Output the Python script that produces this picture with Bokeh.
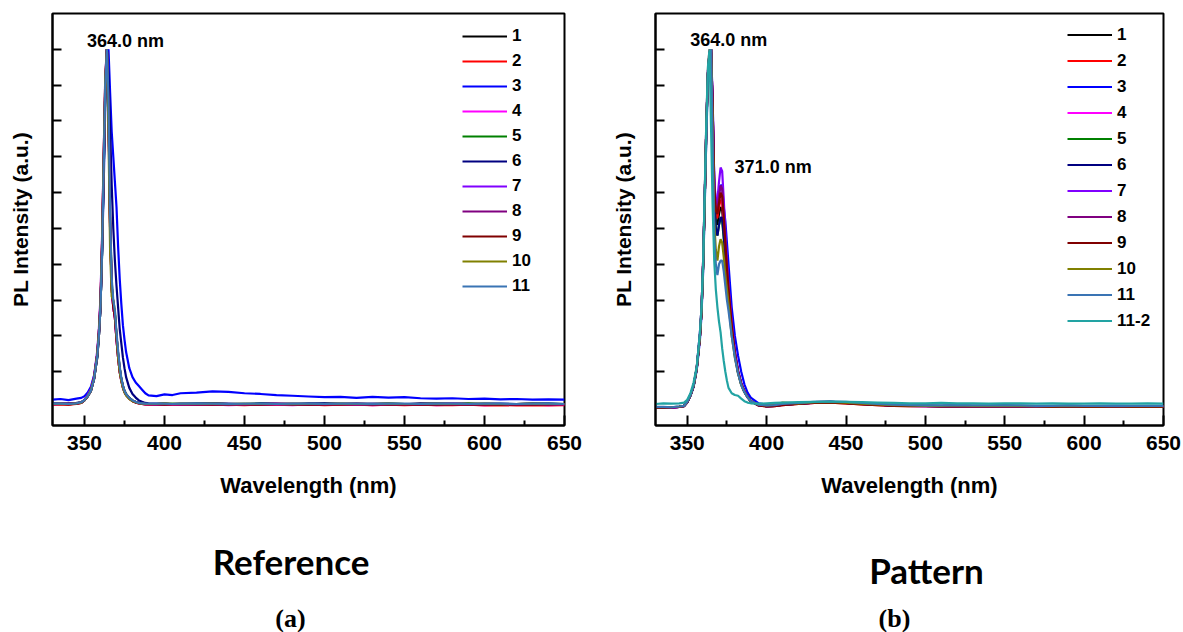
from bokeh.plotting import figure
from bokeh.layouts import column, row
from bokeh.models import FixedTicker, Label, Range1d
from bokeh.embed import file_html
from bokeh.resources import INLINE

# ---------------- data ----------------
WL = [330, 335, 340, 345, 348, 350, 352, 354, 356, 358, 359, 360, 361, 362, 363, 364, 365, 366, 367, 368,
      369, 370, 371, 372, 373, 374, 375, 376, 378, 380, 382, 384, 386, 388, 390, 395, 400, 405, 410, 420,
      430, 440, 450, 460, 470, 480, 490, 500, 510, 520, 530, 540, 550, 560, 570, 580, 590, 600, 610, 620,
      630, 640, 650]

X_TICKS = [350, 400, 450, 500, 550, 600, 650]
X_MINOR = [375, 425, 475, 525, 575, 625]
Y_TICKS = [0.1, 0.2, 0.3, 0.4, 0.5, 0.6, 0.7, 0.8, 0.9, 1.0]

NAMES_A = ["1", "2", "3", "4", "5", "6", "7", "8", "9", "10", "11"]
NAMES_B = ["1", "2", "3", "4", "5", "6", "7", "8", "9", "10", "11", "11-2"]
COLORS = {"1": "#000000", "2": "#FF0000", "3": "#0000FF", "4": "#FF00FF", "5": "#008000",
          "6": "#000080", "7": "#8000FF", "8": "#800080", "9": "#800000", "10": "#808000",
          "11": "#3A74B4", "11-2": "#22A3A3"}

# Panel (a): Reference
A1 = [0.010, 0.011, 0.009, 0.012, 0.014, 0.020, 0.031, 0.046, 0.080, 0.145, 0.20, 0.28, 0.44, 0.66, 0.89, 1.00,
      0.84, 0.52, 0.34, 0.29, 0.26, 0.20, 0.15, 0.11, 0.08, 0.06, 0.046, 0.037, 0.027, 0.020, 0.016, 0.013,
      0.012, 0.011, 0.010, 0.010, 0.011, 0.009, 0.010, 0.010, 0.011, 0.010, 0.009, 0.011, 0.010, 0.010, 0.011,
      0.009, 0.010, 0.011, 0.010, 0.010, 0.009, 0.011, 0.010, 0.010, 0.011, 0.009, 0.010, 0.010, 0.011, 0.010, 0.010]
A2 = [0.008, 0.009, 0.008, 0.010, 0.013, 0.021, 0.033, 0.050, 0.085, 0.15, 0.21, 0.30, 0.47, 0.70, 0.92, 1.00,
      0.82, 0.50, 0.33, 0.28, 0.25, 0.19, 0.14, 0.10, 0.075, 0.056, 0.043, 0.035, 0.025, 0.018, 0.014, 0.011,
      0.010, 0.009, 0.008, 0.008, 0.009, 0.008, 0.008, 0.008, 0.009, 0.008, 0.007, 0.009, 0.008, 0.008, 0.009,
      0.007, 0.008, 0.008, 0.007, 0.008, 0.007, 0.008, 0.007, 0.007, 0.008, 0.006, 0.007, 0.006, 0.007, 0.006, 0.007]
A3 = [0.022, 0.024, 0.021, 0.025, 0.027, 0.032, 0.042, 0.058, 0.090, 0.15, 0.21, 0.29, 0.43, 0.62, 0.85, 0.98,
      1.00, 0.88, 0.77, 0.70, 0.63, 0.56, 0.45, 0.36, 0.29, 0.23, 0.19, 0.155, 0.11, 0.085, 0.070, 0.060,
      0.050, 0.040, 0.034, 0.032, 0.037, 0.035, 0.040, 0.042, 0.045, 0.044, 0.040, 0.038, 0.035, 0.033, 0.031,
      0.029, 0.030, 0.027, 0.030, 0.028, 0.029, 0.026, 0.025, 0.026, 0.024, 0.025, 0.023, 0.024, 0.022, 0.023, 0.022]
A4 = [0.009, 0.010, 0.010, 0.011, 0.014, 0.022, 0.034, 0.050, 0.082, 0.15, 0.21, 0.29, 0.45, 0.68, 0.90, 1.00,
      0.83, 0.51, 0.33, 0.28, 0.25, 0.19, 0.14, 0.10, 0.076, 0.057, 0.044, 0.036, 0.026, 0.019, 0.014, 0.012,
      0.010, 0.009, 0.009, 0.008, 0.009, 0.008, 0.009, 0.008, 0.009, 0.007, 0.008, 0.009, 0.008, 0.007, 0.009,
      0.008, 0.008, 0.009, 0.007, 0.008, 0.008, 0.009, 0.007, 0.008, 0.008, 0.007, 0.008, 0.008, 0.009, 0.007, 0.008]
A5 = [0.011, 0.010, 0.011, 0.012, 0.015, 0.021, 0.032, 0.047, 0.081, 0.14, 0.20, 0.28, 0.43, 0.65, 0.88, 1.00,
      0.85, 0.53, 0.35, 0.29, 0.26, 0.20, 0.15, 0.11, 0.081, 0.061, 0.047, 0.038, 0.027, 0.020, 0.015, 0.013,
      0.012, 0.011, 0.010, 0.010, 0.010, 0.011, 0.010, 0.011, 0.010, 0.009, 0.010, 0.011, 0.010, 0.009, 0.010,
      0.011, 0.010, 0.010, 0.009, 0.011, 0.010, 0.010, 0.009, 0.010, 0.011, 0.010, 0.009, 0.010, 0.010, 0.011, 0.010]
A6 = [0.011, 0.012, 0.011, 0.013, 0.015, 0.021, 0.032, 0.047, 0.080, 0.14, 0.20, 0.28, 0.44, 0.66, 0.89, 1.00,
      0.93, 0.78, 0.62, 0.50, 0.41, 0.34, 0.28, 0.22, 0.18, 0.14, 0.11, 0.085, 0.055, 0.038, 0.028, 0.020,
      0.016, 0.013, 0.012, 0.011, 0.011, 0.010, 0.011, 0.011, 0.012, 0.011, 0.010, 0.011, 0.011, 0.010, 0.011,
      0.012, 0.011, 0.010, 0.011, 0.011, 0.010, 0.011, 0.012, 0.011, 0.010, 0.011, 0.011, 0.010, 0.011, 0.011, 0.010]
A7 = [0.010, 0.011, 0.010, 0.012, 0.014, 0.022, 0.035, 0.052, 0.088, 0.16, 0.22, 0.31, 0.48, 0.71, 0.93, 1.00,
      0.80, 0.49, 0.33, 0.28, 0.25, 0.19, 0.14, 0.10, 0.075, 0.056, 0.043, 0.035, 0.025, 0.019, 0.015, 0.012,
      0.011, 0.010, 0.010, 0.009, 0.010, 0.010, 0.009, 0.010, 0.009, 0.010, 0.010, 0.009, 0.010, 0.011, 0.009,
      0.010, 0.010, 0.009, 0.010, 0.009, 0.010, 0.010, 0.009, 0.010, 0.009, 0.010, 0.010, 0.009, 0.010, 0.009, 0.010]
A8 = [0.010, 0.010, 0.011, 0.012, 0.014, 0.020, 0.031, 0.047, 0.081, 0.15, 0.20, 0.28, 0.45, 0.67, 0.90, 1.00,
      0.84, 0.51, 0.34, 0.29, 0.26, 0.20, 0.15, 0.11, 0.079, 0.059, 0.045, 0.037, 0.026, 0.019, 0.015, 0.013,
      0.011, 0.010, 0.010, 0.010, 0.009, 0.010, 0.010, 0.009, 0.010, 0.010, 0.009, 0.010, 0.011, 0.010, 0.009,
      0.010, 0.010, 0.011, 0.009, 0.010, 0.010, 0.009, 0.010, 0.011, 0.010, 0.009, 0.010, 0.010, 0.009, 0.010, 0.010]
A9 = [0.009, 0.010, 0.009, 0.011, 0.013, 0.020, 0.032, 0.048, 0.083, 0.15, 0.21, 0.29, 0.46, 0.69, 0.91, 1.00,
      0.83, 0.50, 0.33, 0.28, 0.25, 0.19, 0.14, 0.10, 0.077, 0.058, 0.044, 0.036, 0.025, 0.018, 0.014, 0.012,
      0.010, 0.009, 0.009, 0.009, 0.008, 0.009, 0.009, 0.009, 0.008, 0.009, 0.009, 0.008, 0.009, 0.009, 0.008,
      0.009, 0.008, 0.009, 0.009, 0.008, 0.009, 0.008, 0.009, 0.008, 0.009, 0.008, 0.008, 0.009, 0.008, 0.008, 0.009]
A10 = [0.010, 0.011, 0.010, 0.012, 0.014, 0.021, 0.032, 0.048, 0.082, 0.15, 0.21, 0.29, 0.46, 0.70, 0.92, 1.00,
       0.76, 0.44, 0.31, 0.30, 0.27, 0.20, 0.14, 0.10, 0.074, 0.055, 0.042, 0.034, 0.024, 0.018, 0.015, 0.012,
       0.011, 0.010, 0.010, 0.010, 0.012, 0.010, 0.011, 0.010, 0.011, 0.010, 0.011, 0.010, 0.010, 0.011, 0.010,
       0.010, 0.011, 0.010, 0.010, 0.011, 0.010, 0.010, 0.011, 0.010, 0.010, 0.011, 0.010, 0.010, 0.011, 0.010, 0.010]
A11 = [0.011, 0.011, 0.010, 0.012, 0.015, 0.021, 0.032, 0.047, 0.080, 0.145, 0.20, 0.28, 0.44, 0.67, 0.90, 1.00,
       0.86, 0.54, 0.36, 0.30, 0.27, 0.21, 0.16, 0.115, 0.083, 0.062, 0.047, 0.038, 0.027, 0.020, 0.016, 0.013,
       0.012, 0.011, 0.011, 0.011, 0.011, 0.010, 0.011, 0.011, 0.011, 0.010, 0.011, 0.011, 0.010, 0.011, 0.011,
       0.010, 0.011, 0.011, 0.010, 0.011, 0.011, 0.010, 0.011, 0.011, 0.010, 0.011, 0.011, 0.010, 0.011, 0.011, 0.010]

# Panel (b): Pattern
B1 = [0.000, 0.001, 0.000, 0.002, 0.004, 0.015, 0.034, 0.060, 0.110, 0.20, 0.27, 0.40, 0.58, 0.78, 0.93, 0.99,
      1.00, 0.84, 0.60, 0.52, 0.51, 0.54, 0.56, 0.55, 0.50, 0.44, 0.37, 0.31, 0.22, 0.15, 0.10, 0.066,
      0.045, 0.030, 0.018, 0.007, 0.004, 0.005, 0.008, 0.011, 0.014, 0.015, 0.013, 0.010, 0.008, 0.006, 0.005,
      0.005, 0.004, 0.005, 0.004, 0.004, 0.005, 0.004, 0.004, 0.003, 0.004, 0.003, 0.003, 0.004, 0.003, 0.003, 0.003]
B2 = [0.001, 0.000, 0.001, 0.002, 0.005, 0.016, 0.035, 0.062, 0.112, 0.20, 0.28, 0.41, 0.59, 0.79, 0.94, 1.00,
      0.99, 0.83, 0.61, 0.53, 0.53, 0.56, 0.58, 0.57, 0.51, 0.45, 0.38, 0.32, 0.22, 0.15, 0.10, 0.067,
      0.046, 0.030, 0.018, 0.006, 0.003, 0.004, 0.007, 0.010, 0.013, 0.014, 0.012, 0.009, 0.007, 0.005, 0.004,
      0.004, 0.003, 0.004, 0.003, 0.003, 0.004, 0.003, 0.003, 0.002, 0.003, 0.002, 0.002, 0.003, 0.002, 0.002, 0.002]
B3 = [0.000, 0.001, 0.001, 0.003, 0.005, 0.014, 0.032, 0.058, 0.105, 0.19, 0.26, 0.38, 0.56, 0.76, 0.92, 0.98,
      1.00, 0.86, 0.64, 0.56, 0.56, 0.60, 0.62, 0.62, 0.56, 0.52, 0.46, 0.40, 0.28, 0.20, 0.145, 0.10,
      0.065, 0.042, 0.028, 0.012, 0.008, 0.007, 0.009, 0.012, 0.015, 0.016, 0.014, 0.011, 0.009, 0.007, 0.006,
      0.005, 0.005, 0.006, 0.005, 0.005, 0.006, 0.005, 0.004, 0.004, 0.005, 0.004, 0.004, 0.005, 0.004, 0.004, 0.004]
B4 = [0.001, 0.001, 0.000, 0.002, 0.004, 0.015, 0.034, 0.061, 0.110, 0.20, 0.27, 0.40, 0.58, 0.78, 0.93, 0.99,
      1.00, 0.85, 0.63, 0.56, 0.55, 0.58, 0.60, 0.59, 0.53, 0.46, 0.39, 0.33, 0.23, 0.155, 0.10, 0.067,
      0.046, 0.030, 0.018, 0.007, 0.004, 0.005, 0.008, 0.011, 0.013, 0.015, 0.013, 0.010, 0.008, 0.006, 0.005,
      0.004, 0.004, 0.005, 0.004, 0.004, 0.004, 0.004, 0.003, 0.003, 0.004, 0.003, 0.003, 0.003, 0.003, 0.003, 0.003]
B5 = [0.000, 0.001, 0.001, 0.002, 0.004, 0.015, 0.033, 0.059, 0.108, 0.20, 0.27, 0.39, 0.57, 0.77, 0.93, 0.99,
      1.00, 0.82, 0.58, 0.50, 0.48, 0.51, 0.53, 0.52, 0.47, 0.41, 0.35, 0.30, 0.21, 0.145, 0.097, 0.064,
      0.044, 0.029, 0.017, 0.006, 0.004, 0.005, 0.008, 0.011, 0.014, 0.015, 0.013, 0.010, 0.008, 0.006, 0.005,
      0.005, 0.004, 0.004, 0.004, 0.004, 0.005, 0.004, 0.004, 0.003, 0.004, 0.003, 0.003, 0.004, 0.003, 0.003, 0.003]
B6 = [0.001, 0.000, 0.001, 0.002, 0.005, 0.015, 0.034, 0.060, 0.109, 0.20, 0.27, 0.40, 0.58, 0.78, 0.93, 0.99,
      1.00, 0.82, 0.58, 0.50, 0.48, 0.51, 0.53, 0.53, 0.48, 0.42, 0.36, 0.31, 0.22, 0.15, 0.10, 0.066,
      0.045, 0.030, 0.018, 0.007, 0.004, 0.005, 0.008, 0.011, 0.014, 0.016, 0.014, 0.011, 0.008, 0.006, 0.005,
      0.005, 0.004, 0.005, 0.004, 0.004, 0.005, 0.004, 0.004, 0.003, 0.004, 0.003, 0.003, 0.004, 0.003, 0.003, 0.003]
B7 = [0.000, 0.001, 0.000, 0.002, 0.004, 0.015, 0.035, 0.062, 0.112, 0.21, 0.28, 0.41, 0.59, 0.79, 0.94, 0.96,
      1.00, 0.82, 0.64, 0.57, 0.58, 0.63, 0.67, 0.66, 0.58, 0.49, 0.41, 0.34, 0.24, 0.16, 0.105, 0.07,
      0.045, 0.028, 0.018, 0.006, 0.004, 0.005, 0.008, 0.012, 0.015, 0.016, 0.014, 0.011, 0.008, 0.006, 0.005,
      0.004, 0.004, 0.005, 0.004, 0.004, 0.004, 0.004, 0.003, 0.004, 0.004, 0.003, 0.003, 0.004, 0.003, 0.003, 0.003]
B8 = [0.001, 0.001, 0.000, 0.002, 0.005, 0.016, 0.035, 0.061, 0.110, 0.20, 0.27, 0.40, 0.58, 0.78, 0.93, 0.99,
      1.00, 0.84, 0.62, 0.55, 0.55, 0.59, 0.62, 0.61, 0.54, 0.46, 0.39, 0.33, 0.23, 0.155, 0.10, 0.067,
      0.045, 0.030, 0.018, 0.007, 0.004, 0.005, 0.008, 0.011, 0.014, 0.015, 0.013, 0.010, 0.008, 0.006, 0.005,
      0.005, 0.004, 0.005, 0.004, 0.004, 0.004, 0.004, 0.004, 0.003, 0.004, 0.003, 0.003, 0.003, 0.003, 0.003, 0.003]
B9 = [0.000, 0.000, 0.001, 0.002, 0.004, 0.015, 0.034, 0.060, 0.110, 0.20, 0.27, 0.40, 0.58, 0.78, 0.93, 0.99,
      1.00, 0.84, 0.62, 0.55, 0.54, 0.57, 0.60, 0.59, 0.53, 0.46, 0.39, 0.33, 0.23, 0.15, 0.10, 0.066,
      0.045, 0.030, 0.018, 0.006, 0.003, 0.004, 0.007, 0.010, 0.013, 0.014, 0.012, 0.009, 0.007, 0.005, 0.004,
      0.004, 0.003, 0.004, 0.003, 0.003, 0.004, 0.003, 0.003, 0.002, 0.003, 0.002, 0.002, 0.003, 0.002, 0.002, 0.002]
B10 = [0.001, 0.001, 0.001, 0.003, 0.005, 0.016, 0.035, 0.061, 0.111, 0.20, 0.27, 0.40, 0.58, 0.78, 0.93, 0.99,
       1.00, 0.78, 0.52, 0.44, 0.41, 0.45, 0.47, 0.46, 0.42, 0.37, 0.33, 0.29, 0.20, 0.14, 0.095, 0.063,
       0.043, 0.029, 0.018, 0.008, 0.006, 0.008, 0.014, 0.012, 0.015, 0.016, 0.014, 0.011, 0.009, 0.007, 0.006,
       0.005, 0.005, 0.006, 0.005, 0.005, 0.005, 0.005, 0.004, 0.004, 0.005, 0.004, 0.004, 0.004, 0.004, 0.004, 0.004]
B11 = [0.002, 0.002, 0.001, 0.003, 0.005, 0.016, 0.035, 0.062, 0.112, 0.21, 0.28, 0.41, 0.60, 0.74, 0.92, 0.99,
       1.00, 0.74, 0.48, 0.40, 0.37, 0.40, 0.41, 0.41, 0.38, 0.34, 0.30, 0.27, 0.20, 0.14, 0.095, 0.063,
       0.043, 0.029, 0.018, 0.008, 0.006, 0.007, 0.010, 0.013, 0.016, 0.017, 0.016, 0.013, 0.010, 0.008, 0.007,
       0.006, 0.006, 0.007, 0.006, 0.006, 0.006, 0.006, 0.005, 0.005, 0.006, 0.005, 0.005, 0.005, 0.005, 0.005, 0.005]
B11_2 = [0.010, 0.012, 0.011, 0.012, 0.014, 0.022, 0.040, 0.070, 0.115, 0.21, 0.28, 0.40, 0.60, 0.80, 0.95, 1.00,
         0.78, 0.56, 0.41, 0.33, 0.28, 0.24, 0.21, 0.165, 0.13, 0.10, 0.075, 0.055, 0.040, 0.035, 0.033, 0.025,
         0.018, 0.014, 0.012, 0.011, 0.012, 0.013, 0.014, 0.015, 0.016, 0.017, 0.016, 0.015, 0.014, 0.013, 0.012,
         0.012, 0.013, 0.012, 0.012, 0.011, 0.012, 0.012, 0.011, 0.012, 0.011, 0.011, 0.012, 0.011, 0.011, 0.012, 0.011]

DATA_A = {"1": A1, "2": A2, "3": A3, "4": A4, "5": A5, "6": A6, "7": A7, "8": A8, "9": A9, "10": A10, "11": A11}
DATA_B = {"1": B1, "2": B2, "3": B3, "4": B4, "5": B5, "6": B6, "7": B7, "8": B8, "9": B9, "10": B10,
          "11": B11, "11-2": B11_2}

NOTES_A = [("364.0 nm", 375.6, 1.022)]
NOTES_B = [("364.0 nm", 376.2, 1.025), ("371.0 nm", 404.1, 0.672)]

FONT = "Liberation Sans"
H = 508


def make_panel(width, bl, br, bt, frame_h, data, names, leg_loc, glyph_h, notes):
    p = figure(width=width, height=H, x_range=Range1d(330, 650), y_range=Range1d(-0.05, 1.10),
               output_backend="svg", toolbar_location=None,
               min_border_left=bl, min_border_right=br, min_border_top=bt,
               min_border_bottom=H - bt - frame_h)
    p.title.visible = False
    p.grid.visible = False
    p.background_fill_color = "white"
    p.border_fill_color = "white"
    p.outline_line_color = "black"
    p.outline_line_width = 2

    for n in names:
        p.line(WL, data[n], color=COLORS[n], line_width=2.2, legend_label=n)

    xa = p.xaxis[0]
    xa.ticker = FixedTicker(ticks=X_TICKS, minor_ticks=X_MINOR)
    xa.major_tick_in = 10
    xa.major_tick_out = 0
    xa.minor_tick_in = 5
    xa.minor_tick_out = 0
    xa.axis_line_width = 2
    xa.major_tick_line_width = 2
    xa.minor_tick_line_width = 2
    xa.major_label_text_font = FONT
    xa.major_label_text_font_style = "bold"
    xa.major_label_text_font_size = "21px"
    xa.major_label_text_color = "black"
    xa.major_label_standoff = 10
    xa.axis_label = "Wavelength (nm)"
    xa.axis_label_text_font = FONT
    xa.axis_label_text_font_style = "bold"
    xa.axis_label_text_font_size = "22px"
    xa.axis_label_text_color = "black"
    xa.axis_label_standoff = 20

    ya = p.yaxis[0]
    ya.ticker = FixedTicker(ticks=Y_TICKS, minor_ticks=[])
    ya.major_tick_in = 9
    ya.major_tick_out = 0
    ya.minor_tick_in = 0
    ya.minor_tick_out = 0
    ya.axis_line_width = 2
    ya.major_tick_line_width = 2
    ya.major_label_overrides = {t: "" for t in Y_TICKS}
    ya.major_label_text_color = None
    ya.major_label_standoff = 0
    ya.axis_label = "PL Intensity (a.u.)"
    ya.axis_label_text_font = FONT
    ya.axis_label_text_font_style = "bold"
    ya.axis_label_text_font_size = "21px"
    ya.axis_label_text_color = "black"
    ya.axis_label_standoff = 21

    lg = p.legend[0]
    lg.location = leg_loc
    lg.glyph_width = 45
    lg.glyph_height = glyph_h
    lg.label_height = glyph_h
    lg.spacing = 5
    lg.padding = 0
    lg.margin = 0
    lg.label_standoff = 5
    lg.border_line_alpha = 0
    lg.background_fill_alpha = 0
    lg.label_text_font = FONT
    lg.label_text_font_style = "bold"
    lg.label_text_font_size = "17px"
    lg.label_text_color = "black"

    for txt, x, y in notes:
        p.add_layout(Label(x=x, y=y, text=txt, text_align="center", text_baseline="alphabetic",
                           text_font=FONT, text_font_style="bold", text_font_size="18px",
                           text_color="black"))
    return p


pa = make_panel(600, 52, 36, 13, 412, DATA_A, NAMES_A, (410, 129), 20, NOTES_A)
pb = make_panel(583, 55, 20, 12, 418, DATA_B, NAMES_B, (412, 94), 21, NOTES_B)

# caption strip below the panels (page y 508..632); its frame starts ~29 px below the strip top
BOT_H = 632 - H
FRAME_TOP = H + 29
pbot = figure(width=1183, height=BOT_H, x_range=Range1d(0, 1183), y_range=Range1d(632, FRAME_TOP),
              output_backend="svg", toolbar_location=None, x_axis_type=None, y_axis_type=None,
              min_border=0)
pbot.title.visible = False
pbot.grid.visible = False
pbot.outline_line_color = None
pbot.background_fill_color = "white"
pbot.border_fill_color = "white"

CAPTIONS = [("Reference", 290.5, 577, "Lato", "35px"), ("Pattern", 926, 584, "Lato", "35px"),
            ("(a)", 290, 621, "Liberation Serif", "26px"), ("(b)", 894, 621, "Liberation Serif", "26px")]
for txt, x, y, f, s in CAPTIONS:
    pbot.add_layout(Label(x=x, y=y, text=txt, text_align="center", text_baseline="alphabetic",
                          text_font=f, text_font_style="bold", text_font_size=s, text_color="black"))

layout = column(row(pa, pb), pbot)
open("out.html", "w").write(file_html(layout, INLINE))
